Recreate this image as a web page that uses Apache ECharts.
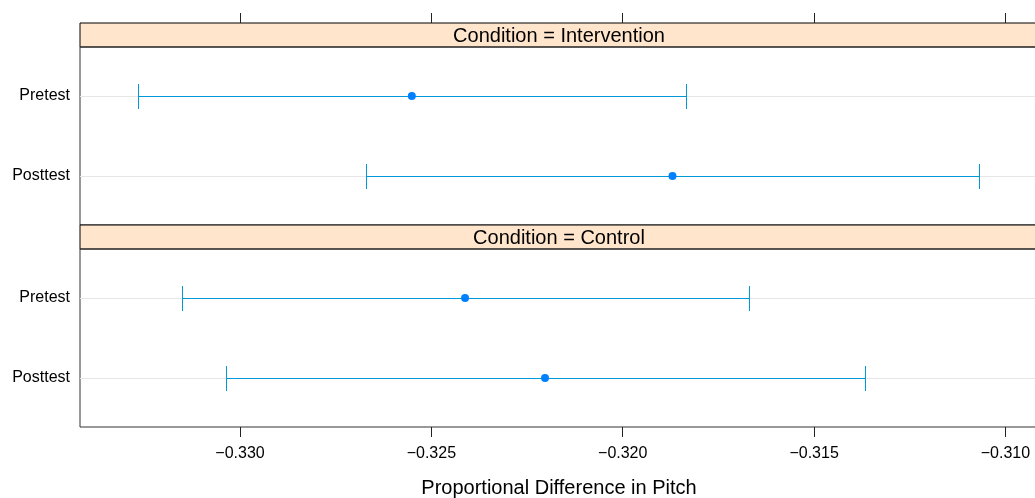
<!DOCTYPE html>
<html><head><meta charset="utf-8">
<script src="https://cdn.jsdelivr.net/npm/echarts@6/dist/echarts.min.js"></script>
<style>html,body{margin:0;padding:0;background:#fff}#c{width:1035px;height:498px}</style>
</head><body><div id="c"></div>
<script>
// ---- data ----
const rows = ['Pretest', 'Posttest'];               // top to bottom within each panel
const panels = ['Condition = Intervention', 'Condition = Control'];
const interventionEst   = [-0.32551, -0.31870];
const interventionLower = [-0.33267, -0.32670];
const interventionUpper = [-0.31835, -0.31070];
const controlEst   = [-0.32412, -0.32203];
const controlLower = [-0.33152, -0.33037];
const controlUpper = [-0.31670, -0.31367];
const xTicks = [-0.330, -0.325, -0.320, -0.315, -0.310];
const xTitle = 'Proportional Difference in Pitch';

// ---- layout ----
const X_MIN = -0.33418, X_MAX = -0.30915;
const Y_MIN = -0.6125, Y_MAX = 1.6125;
const LEFT = 80, RIGHT = -3;
const FONT = 'Liberation Sans, Arial, sans-serif';
const lineColor = '#0098d8', dotColor = '#0080ff';

const yOf = i => rows.length - 1 - i;
function fmt(v){ return (v < 0 ? '\u2212' : '') + Math.abs(v).toFixed(3); }

function barData(lo, hi){ return rows.map((r,i)=>[lo[i], hi[i], yOf(i)]); }
function dotData(est){ return rows.map((r,i)=>[est[i], yOf(i)]); }

const px = v => Math.round(v) + 0.5;
function renderBar(params, api){
  const cs = params.coordSys;
  const y = api.value(2);
  const a = api.coord([api.value(0), y]);
  const b = api.coord([api.value(1), y]);
  const yy = px(a[1]), ax = px(a[0]), bx = px(b[0]);
  const cap = 12.5;
  return {type:'group', children:[
    {type:'line', shape:{x1:cs.x, y1:yy, x2:cs.x+cs.width, y2:yy}, style:{stroke:'#e6e6e6', lineWidth:1}},
    {type:'line', shape:{x1:ax, y1:yy, x2:bx, y2:yy}, style:{stroke:lineColor, lineWidth:1}},
    {type:'line', shape:{x1:ax, y1:yy-cap, x2:ax, y2:yy+cap}, style:{stroke:lineColor, lineWidth:1}},
    {type:'line', shape:{x1:bx, y1:yy-cap, x2:bx, y2:yy+cap}, style:{stroke:lineColor, lineWidth:1}}
  ]};
}

const gbase = {left:LEFT, right:RIGHT, outerBoundsMode:'none', containLabel:false};
const grids = [
  Object.assign({top:23, height:24, show:true, backgroundColor:'#ffe5cc', borderColor:'#000', borderWidth:1}, gbase),
  Object.assign({top:47, height:178, show:true, borderColor:'#333', borderWidth:1}, gbase),
  Object.assign({top:225, height:24, show:true, backgroundColor:'#ffe5cc', borderColor:'#000', borderWidth:1}, gbase),
  Object.assign({top:249, height:178, show:true, borderColor:'#333', borderWidth:1}, gbase)
];
const hiddenX = g => ({type:'value', gridIndex:g, min:X_MIN, max:X_MAX, show:false});
const xAxes = [
  {type:'value', gridIndex:0, position:'top', min:X_MIN, max:X_MAX,
   axisLine:{show:false, onZero:false}, splitLine:{show:false}, axisLabel:{show:false},
   axisTick:{show:true, inside:false, length:10, customValues:xTicks, lineStyle:{color:'#222'}}},
  hiddenX(1),
  hiddenX(2),
  {type:'value', gridIndex:3, position:'bottom', min:X_MIN, max:X_MAX,
   axisLine:{show:false, onZero:false}, splitLine:{show:false},
   axisTick:{show:true, inside:false, length:10, customValues:xTicks, lineStyle:{color:'#222'}},
   axisLabel:{customValues:xTicks, formatter:fmt, margin:19, fontSize:16, color:'#000', fontFamily:FONT},
   name:xTitle, nameLocation:'middle', nameGap:51,
   nameTextStyle:{fontSize:20, color:'#000', fontFamily:FONT}}
];
const panelY = g => ({type:'value', gridIndex:g, min:Y_MIN, max:Y_MAX,
  axisLine:{show:false}, axisTick:{show:false}, splitLine:{show:false},
  axisLabel:{customValues:rows.map((r,i)=>yOf(i)), formatter:v=>rows[rows.length-1-Math.round(v)],
    margin:10, fontSize:16, color:'#000', fontFamily:FONT, padding:[3,0,0,0]}});
const yAxes = [
  {type:'value', gridIndex:0, show:false, min:0, max:1},
  panelY(1),
  {type:'value', gridIndex:2, show:false, min:0, max:1},
  panelY(3)
];

const dotStyle = {color:dotColor, opacity:1};
const series = [
  {type:'custom', xAxisIndex:1, yAxisIndex:1, renderItem:renderBar, data:barData(interventionLower, interventionUpper), encode:{x:[0,1], y:2}, silent:true},
  {type:'scatter', xAxisIndex:1, yAxisIndex:1, data:dotData(interventionEst), symbolSize:8, itemStyle:dotStyle, z:5},
  {type:'custom', xAxisIndex:3, yAxisIndex:3, renderItem:renderBar, data:barData(controlLower, controlUpper), encode:{x:[0,1], y:2}, silent:true},
  {type:'scatter', xAxisIndex:3, yAxisIndex:3, data:dotData(controlEst), symbolSize:8, itemStyle:dotStyle, z:5}
];

const stripCenterX = (LEFT + 1035 - RIGHT) / 2;
const graphic = [
  {type:'text', x:stripCenterX, y:36, style:{text:panels[0], align:'center', verticalAlign:'middle', fontSize:20, fill:'#000', fontFamily:FONT}, z:10},
  {type:'text', x:stripCenterX, y:238, style:{text:panels[1], align:'center', verticalAlign:'middle', fontSize:20, fill:'#000', fontFamily:FONT}, z:10}
];

const chart = echarts.init(document.getElementById('c'), null, {renderer:'canvas'});
chart.setOption({animation:false, backgroundColor:'#fff', grid:grids, xAxis:xAxes, yAxis:yAxes, series:series, graphic:graphic});
</script></body></html>
